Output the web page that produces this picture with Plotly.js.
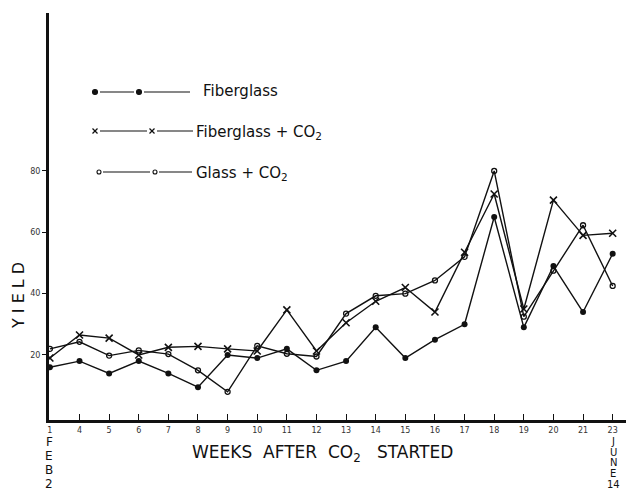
<!DOCTYPE html>
<html>
<head>
<meta charset="utf-8">
<script src="https://cdn.plot.ly/plotly-3.0.1.min.js"></script>
<style>html,body{margin:0;padding:0;background:#fff;}#chart{width:630px;height:492px;}</style>
</head>
<body>
<div id="chart"></div>
<script>
// ---- data ----
const weeks = ['1','4','5','6','7','8','9','10','11','12','13','14','15','16','17','18','19','20','21','23'];
const fiberglass    = [16, 18, 14, 18, 14, 9.5, 20, 19, 22, 15, 18, 29, 19, 25, 30, 65, 29, 49, 34, 53];
const fiberglassCO2 = [19, 26.5, 25.5, 20, 22.5, 22.8, 22, 21.3, 34.7, 21.3, 30.5, 37.5, 42, 34, 53.5, 72.5, 35, 70.5, 59, 59.7];
const glassCO2      = [22, 24.3, 19.8, 21.5, 20.3, 15, 8, 23, 20.4, 19.5, 33.5, 39.3, 40, 44.3, 52, 80, 32.5, 47.5, 62.3, 42.5];
const yTicks = [20, 40, 60, 80];
const legendNames = ['Fiberglass', 'Fiberglass + CO<sub>2</sub>', 'Glass + CO<sub>2</sub>'];

// ---- geometry helpers (pixel -> paper) ----
const W = 630, H = 492;
const M = {l: 49, r: 4, t: 13, b: 72};
const PW = W - M.l - M.r, PH = H - M.t - M.b;
const px = x => (x - M.l) / PW;
const py = y => (H - M.b - y) / PH;

const FONT = 'DejaVu Sans, Liberation Sans, sans-serif';
const INK = '#111';

const lineStyle = {color: INK, width: 1.4};
const traces = [
  {x: weeks, y: fiberglass, name: legendNames[0], mode: 'lines+markers', line: lineStyle,
   marker: {symbol: 'circle', size: 6, color: INK}},
  {x: weeks, y: fiberglassCO2, name: legendNames[1], mode: 'lines+markers', line: lineStyle,
   marker: {symbol: 'x-thin-open', size: 7, color: INK, line: {color: INK, width: 1.6}}},
  {x: weeks, y: glassCO2, name: legendNames[2], mode: 'lines+markers', line: lineStyle,
   marker: {symbol: 'circle-open', size: 5, color: INK, line: {color: INK, width: 1.3}}}
];

// ---- custom legend ----
const shapes = [];
const annotations = [];
function hline(x0, x1, y) {
  shapes.push({type: 'line', xref: 'paper', yref: 'paper', x0: px(x0), x1: px(x1), y0: py(y), y1: py(y),
    line: {color: INK, width: 1.2}});
}
function dot(x, y, r, filled) {
  shapes.push({type: 'circle', xref: 'paper', yref: 'paper', x0: px(x - r), x1: px(x + r), y0: py(y + r), y1: py(y - r),
    line: {color: INK, width: 1.1}, fillcolor: filled ? INK : 'rgba(0,0,0,0)'});
}
function cross(x, y, s) {
  shapes.push({type: 'line', xref: 'paper', yref: 'paper', x0: px(x - s), x1: px(x + s), y0: py(y - s), y1: py(y + s), line: {color: INK, width: 1.2}});
  shapes.push({type: 'line', xref: 'paper', yref: 'paper', x0: px(x - s), x1: px(x + s), y0: py(y + s), y1: py(y - s), line: {color: INK, width: 1.2}});
}
function label(text, x, y, size) {
  annotations.push({text: text, xref: 'paper', yref: 'paper', x: px(x), y: py(y),
    xanchor: 'left', yanchor: 'middle', showarrow: false, font: {family: FONT, size: size, color: INK}});
}
// row 1
dot(95, 92, 2.5, true); hline(100, 134, 92); dot(139, 92, 2.5, true); hline(144, 190, 92);
label(legendNames[0], 201, 91, 15);
// row 2
cross(95, 131, 2.5); hline(100, 147, 131); cross(152, 131, 2.5); hline(157, 193, 131);
label(legendNames[1], 194, 132, 15);
// row 3
dot(99, 172, 2, false); hline(103, 150, 172); dot(155, 172, 2, false); hline(159, 192, 172);
label(legendNames[2], 194, 173, 15);

// axis titles & date markers
function centered(text, x, y, size, rot) {
  annotations.push({text: text, xref: 'paper', yref: 'paper', x: px(x), y: py(y), xanchor: 'center', yanchor: 'middle',
    showarrow: false, textangle: rot || 0, borderpad: 0, font: {family: FONT, size: size, color: INK}});
}
centered('WEEKS  AFTER  CO<sub>2</sub>   STARTED', 322, 453, 17);
centered('Y I E L D', 19, 296, 16, -90);
['F', 'E', 'B', '2'].forEach((c, i) => centered(c, 49, 442 + i * 14, 12));
['J', 'U', 'N', 'E'].forEach((c, i) => centered(c, 613, 441.5 + i * 10.5, 10));
centered('14', 613, 484.5, 10);

const layout = {
  width: W, height: H,
  margin: M,
  paper_bgcolor: '#fff', plot_bgcolor: '#fff',
  showlegend: false,
  font: {family: FONT, color: INK},
  xaxis: {
    type: 'category', range: [-0.03, 19.45], showgrid: false, zeroline: false,
    showline: true, linecolor: INK, linewidth: 3,
    ticks: 'inside', ticklen: 6, tickwidth: 1, tickcolor: INK,
    tickfont: {family: FONT, size: 8, color: '#333'}
  },
  yaxis: {
    range: [-1.2, 131.5], showgrid: false, zeroline: false,
    showline: true, linecolor: INK, linewidth: 3,
    tickmode: 'array', tickvals: yTicks, ticktext: yTicks.map(String),
    ticks: 'outside', ticklen: 4, tickwidth: 1, tickcolor: INK,
    tickfont: {family: FONT, size: 8, color: '#333'}
  },
  shapes: shapes,
  annotations: annotations
};

Plotly.newPlot('chart', traces, layout, {displayModeBar: false, staticPlot: true});
</script>
</body>
</html>
